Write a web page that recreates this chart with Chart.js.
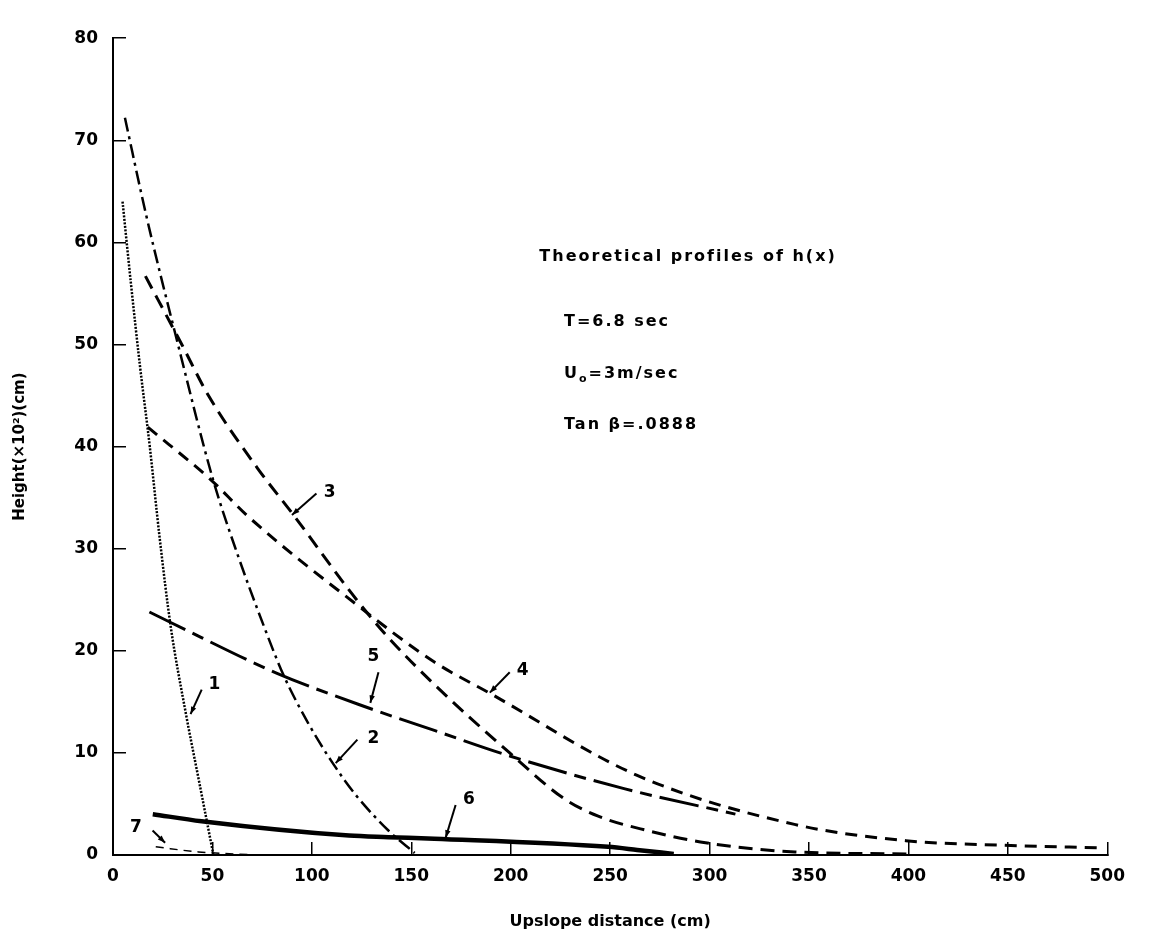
<!DOCTYPE html>
<html>
<head>
<meta charset="utf-8">
<script src="https://cdn.jsdelivr.net/npm/chart.js@4.4.0/dist/chart.umd.min.js"></script>
<style>
  html, body { margin: 0; padding: 0; background: #fff; }
  #wrap { width: 1149px; height: 934px; position: relative; }
</style>
</head>
<body>
<div id="wrap"><canvas id="profileChart"></canvas></div>
<script>
// Theoretical profiles of h(x)
const xTicks = [0, 50, 100, 150, 200, 250, 300, 350, 400, 450, 500];
const yTicks = [0, 10, 20, 30, 40, 50, 60, 70, 80];

const curve1X = [4.8, 9, 13.5, 18.5, 23.5, 29, 36.5, 43.5, 50.5];
const curve1Y = [64, 56, 48, 40, 31, 22.4, 14, 7, 0];

const curve2X = [6, 17, 32.3, 50.4, 62.7, 75.9, 85.8, 98.2, 110.5, 122, 138.5, 151.7];
const curve2Y = [72.2, 62.4, 50.3, 36.7, 29.4, 22.4, 17.6, 12.9, 9.0, 5.9, 2.4, 0.2];

const curve3X = [16.3, 34.6, 48, 72.6, 90, 122.5, 138, 161.6, 199.5, 227, 244, 268.6, 298, 343, 400];
const curve3Y = [56.7, 50, 45, 37.9, 33.5, 25, 21.4, 16.7, 10, 5.5, 3.8, 2.4, 1.2, 0.3, 0.1];

const curve4X = [17.5, 49.5, 67.7, 122, 161.6, 189, 263.6, 342.7, 398.7, 448, 497.5];
const curve4Y = [41.9, 36.7, 33.2, 24.6, 18.9, 15.9, 7.8, 3.0, 1.4, 0.95, 0.7];

const curve5X = [18.3, 29.8, 82.5, 130, 161.6, 199.5, 257, 313];
const curve5Y = [23.8, 22.7, 17.8, 14.3, 12.2, 9.7, 6.5, 4.0];

const curve6X = [20, 44.6, 118.7, 138.5, 161.6, 249, 263.6, 282];
const curve6Y = [4.0, 3.3, 1.9, 1.75, 1.6, 0.8, 0.5, 0.1];

const curve7X = [21.5, 43, 74];
const curve7Y = [0.8, 0.3, 0];

// curve number tags and the arrows pointing at the curves (data units)
const tagText = ['1', '2', '3', '4', '5', '6', '7'];
const tagX = [51, 131, 109, 206, 131, 179, 11.5];
const tagY = [16.7, 11.4, 35.5, 18.1, 19.4, 5.4, 2.7];
const arrowFromX = [44.6, 122.9, 102.3, 199.5, 133.5, 172.3, 19.9];
const arrowFromY = [16.2, 11.3, 35.4, 17.9, 17.9, 4.9, 2.4];
const arrowToX = [39, 112, 90, 189.5, 129.4, 167.3, 26.2];
const arrowToY = [13.8, 9, 33.3, 15.9, 14.9, 1.7, 1.2];

const noteX = [214.4, 226.8, 226.8, 226.8];
const noteY = [58.6, 52.2, 47.1, 42.1];

const FONT = '"DejaVu Sans", sans-serif';

function pairs(xs, ys) {
    return xs.map((x, i) => ({ x: x, y: ys[i] }));
}

function lineSet(xs, ys, dash, width) {
    return {
        data: pairs(xs, ys),
        borderColor: '#000',
        borderWidth: width,
        borderDash: dash,
        pointRadius: 0,
        fill: false,
        cubicInterpolationMode: 'monotone'
    };
}

const notesPlugin = {
    id: 'notes',
    afterDatasetsDraw(chart) {
        const ctx = chart.ctx;
        const xs = chart.scales.x, ys = chart.scales.y;
        ctx.save();
        ctx.fillStyle = '#000';
        ctx.strokeStyle = '#000';

        // curve tags + arrows
        ctx.font = 'bold 17px ' + FONT;
        ctx.textAlign = 'center';
        ctx.textBaseline = 'middle';
        tagText.forEach((t, i) => {
            ctx.fillText(t, xs.getPixelForValue(tagX[i]), ys.getPixelForValue(tagY[i]));
            const fx = xs.getPixelForValue(arrowFromX[i]), fy = ys.getPixelForValue(arrowFromY[i]);
            const tx = xs.getPixelForValue(arrowToX[i]), ty = ys.getPixelForValue(arrowToY[i]);
            ctx.lineWidth = 2;
            ctx.beginPath();
            ctx.moveTo(fx, fy);
            ctx.lineTo(tx, ty);
            ctx.stroke();
            const a = Math.atan2(ty - fy, tx - fx);
            ctx.beginPath();
            ctx.moveTo(tx, ty);
            ctx.lineTo(tx - 8 * Math.cos(a - 0.35), ty - 8 * Math.sin(a - 0.35));
            ctx.lineTo(tx - 8 * Math.cos(a + 0.35), ty - 8 * Math.sin(a + 0.35));
            ctx.closePath();
            ctx.fill();
        });

        // text block
        ctx.textAlign = 'left';
        ctx.font = 'bold 16px ' + FONT;
        ctx.letterSpacing = '2px';
        const px = i => xs.getPixelForValue(noteX[i]);
        const py = i => ys.getPixelForValue(noteY[i]);
        ctx.fillText('Theoretical profiles of h(x)', px(0), py(0));
        ctx.fillText('T=6.8 sec', px(1), py(1));
        let x = px(2);
        ctx.fillText('U', x, py(2));
        x += ctx.measureText('U').width;
        ctx.font = 'bold 11px ' + FONT;
        ctx.fillText('o', x, py(2) + 5);
        x += ctx.measureText('o').width;
        ctx.font = 'bold 16px ' + FONT;
        ctx.fillText('=3m/sec', x, py(2));
        ctx.fillText('Tan \u03B2=.0888', px(3), py(3));
        ctx.restore();
    }
};

const ctx = document.getElementById('profileChart').getContext('2d');
const profileChart = new Chart(ctx, {
    type: 'line',
    data: {
        datasets: [
            lineSet(curve1X, curve1Y, [2, 1.5], 2.5),
            lineSet(curve2X, curve2Y, [14, 5, 3, 5], 2.5),
            lineSet(curve3X, curve3Y, [14, 8], 3),
            lineSet(curve4X, curve4Y, [12, 8], 3),
            lineSet(curve5X, curve5Y, [40, 8, 12, 8], 3),
            lineSet(curve6X, curve6Y, [], 4.5),
            lineSet(curve7X, curve7Y, [8, 6], 1.5)
        ]
    },
    options: {
        responsive: true,
        maintainAspectRatio: false,
        animation: false,
        layout: { padding: { top: 15, right: 24, bottom: 0, left: 0 } },
        plugins: {
            legend: { display: false },
            tooltip: { enabled: false }
        },
        scales: {
            x: {
                type: 'linear',
                min: 0,
                max: 500,
                afterBuildTicks: s => { s.ticks = xTicks.map(v => ({ value: v })); },
                afterFit: s => { s.height = 79; },
                grid: { display: true, drawOnChartArea: false, drawTicks: true, tickLength: -13, color: '#000', lineWidth: 1.5 },
                border: { display: true, color: '#000', width: 2 },
                ticks: { padding: 24, color: '#000', maxRotation: 0, autoSkip: false, font: { family: FONT, size: 17, weight: 'bold' } },
                title: { display: true, text: 'Upslope distance (cm)', color: '#000', font: { family: FONT, size: 16, weight: 'bold' }, padding: { top: 0, bottom: 3 } }
            },
            y: {
                min: 0,
                max: 80,
                afterBuildTicks: s => { s.ticks = yTicks.map(v => ({ value: v })); },
                afterFit: s => { s.width = 113; },
                grid: { display: true, drawOnChartArea: false, drawTicks: true, tickLength: -13, color: '#000', lineWidth: 1.5 },
                border: { display: true, color: '#000', width: 2 },
                ticks: { padding: 28, color: '#000', autoSkip: false, font: { family: FONT, size: 17, weight: 'bold' } },
                title: { display: true, text: 'Height(\u00D710\u00B2)(cm)', color: '#000', font: { family: FONT, size: 15, weight: 'bold' }, padding: { top: 11, bottom: 0 } }
            }
        }
    },
    plugins: [notesPlugin]
});
</script>
</body>
</html>
